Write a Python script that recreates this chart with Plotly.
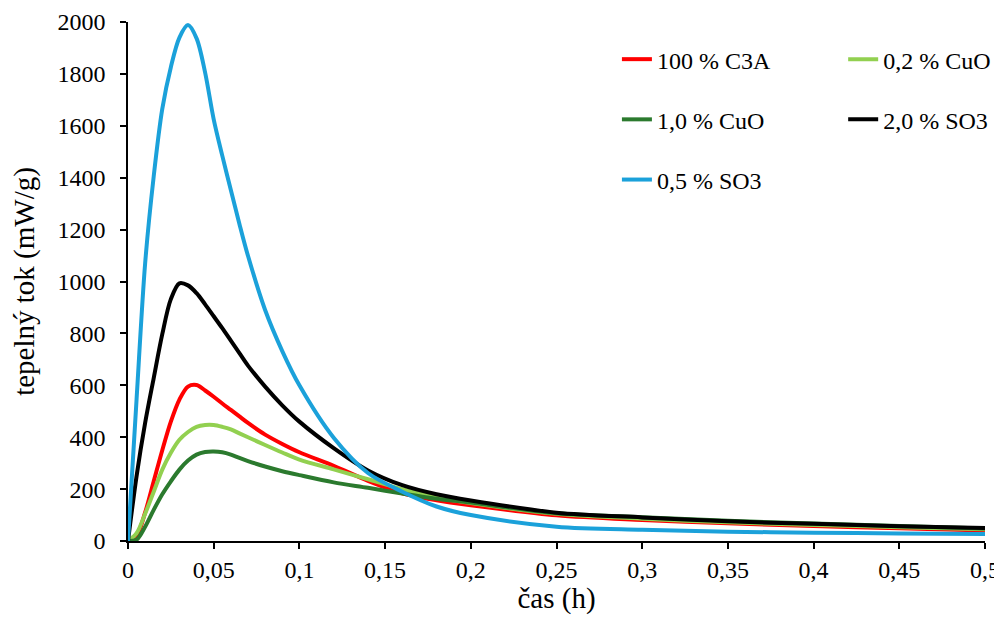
import plotly.graph_objects as go

time_h = [0, 0.005, 0.01, 0.015, 0.02, 0.025, 0.03, 0.035, 0.04, 0.045, 0.05, 0.055,
          0.06, 0.065, 0.07, 0.08, 0.09, 0.1, 0.12, 0.14, 0.16, 0.18, 0.2, 0.25, 0.3,
          0.35, 0.4, 0.45, 0.5]

c3a_100 = [0, 20, 110, 230, 350, 460, 545, 595, 601, 580, 556, 530,
           505, 480, 455, 410, 374, 342, 290, 232, 184, 157, 138, 99, 81, 68, 58, 49, 40]
cuo_02 = [0, 30, 105, 190, 275, 340, 390, 420, 440, 447, 447, 440,
          430, 415, 400, 370, 341, 314, 276, 238, 200, 168, 146, 105, 86, 72, 62, 53, 45]
cuo_10 = [0, 5, 55, 120, 180, 230, 275, 310, 333, 343, 345, 342,
          333, 320, 308, 287, 269, 254, 226, 205, 183, 163, 148, 107, 92, 78, 67, 58, 48]
so3_20 = [0, 250, 455, 628, 797, 932, 993, 985, 955, 912, 866, 820,
          772, 724, 676, 595, 523, 460, 358, 272, 215, 180, 156, 109, 91, 76, 66, 57, 50]
so3_05 = [0, 546, 1070, 1405, 1665, 1826, 1940, 1988, 1937, 1805, 1625, 1485,
          1353, 1222, 1099, 890, 732, 600, 398, 262, 190, 133, 100, 55, 43, 36, 32, 29, 27]

series = [
    ("100 % C3A", c3a_100, "#FF0000", "legend"),
    ("0,2 % CuO", cuo_02, "#92D050", "legend2"),
    ("1,0 % CuO", cuo_10, "#2B7A2E", "legend"),
    ("2,0 % SO3", so3_20, "#000000", "legend2"),
    ("0,5 % SO3", so3_05, "#1BA1DA", "legend"),
]

x_ticks = [0, 0.05, 0.1, 0.15, 0.2, 0.25, 0.3, 0.35, 0.4, 0.45, 0.5]
x_ticktext = ["0", "0,05", "0,1", "0,15", "0,2", "0,25", "0,3", "0,35", "0,4", "0,45", "0,5"]

FONT = "Liberation Serif"
TICK_SIZE = 24
TITLE_SIZE = 29
LEG_SIZE = 24

fig = go.Figure()
for i, (name, vals, color, leg) in enumerate(series):
    fig.add_trace(go.Scatter(
        x=time_h, y=vals, name=name, mode="lines",
        line=dict(color=color, width=4, shape="spline", smoothing=0.9),
        legend=leg, legendgroup=f"g{i}",
    ))

fig.update_layout(
    width=1040, height=607,
    margin=dict(l=120, r=63, t=14, b=74),
    paper_bgcolor="white", plot_bgcolor="white",
    font=dict(family=FONT, size=TICK_SIZE, color="#000000"),
    showlegend=True,
    legend=dict(x=0.5705, y=0.971, xanchor="left", yanchor="top",
                bgcolor="rgba(0,0,0,0)", tracegroupgap=26,
                font=dict(family=FONT, size=LEG_SIZE)),
    legend2=dict(x=0.8345, y=0.971, xanchor="left", yanchor="top",
                 bgcolor="rgba(0,0,0,0)", tracegroupgap=26,
                 font=dict(family=FONT, size=LEG_SIZE)),
    xaxis=dict(
        range=[0, 0.5], tickvals=x_ticks, ticktext=x_ticktext,
        showline=True, linecolor="#000000", linewidth=1.5,
        ticks="outside", ticklen=6, tickcolor="#000000", tickwidth=1.5,
        ticklabelstandoff=0,
        showgrid=False, zeroline=False, automargin=False,
        title=dict(text="čas (h)", font=dict(family=FONT, size=TITLE_SIZE), standoff=6),
        tickfont=dict(family=FONT, size=TICK_SIZE),
    ),
    yaxis=dict(
        range=[0, 2000], dtick=200,
        showline=True, linecolor="#000000", linewidth=1.5,
        ticks="outside", ticklen=6, tickcolor="#000000", tickwidth=1.5,
        ticklabelstandoff=10,
        showgrid=False, zeroline=False, automargin=False,
        title=dict(text="tepelný tok (mW/g)", font=dict(family=FONT, size=TITLE_SIZE), standoff=18),
        tickfont=dict(family=FONT, size=TICK_SIZE),
    ),
)

fig.write_html("out.html")
